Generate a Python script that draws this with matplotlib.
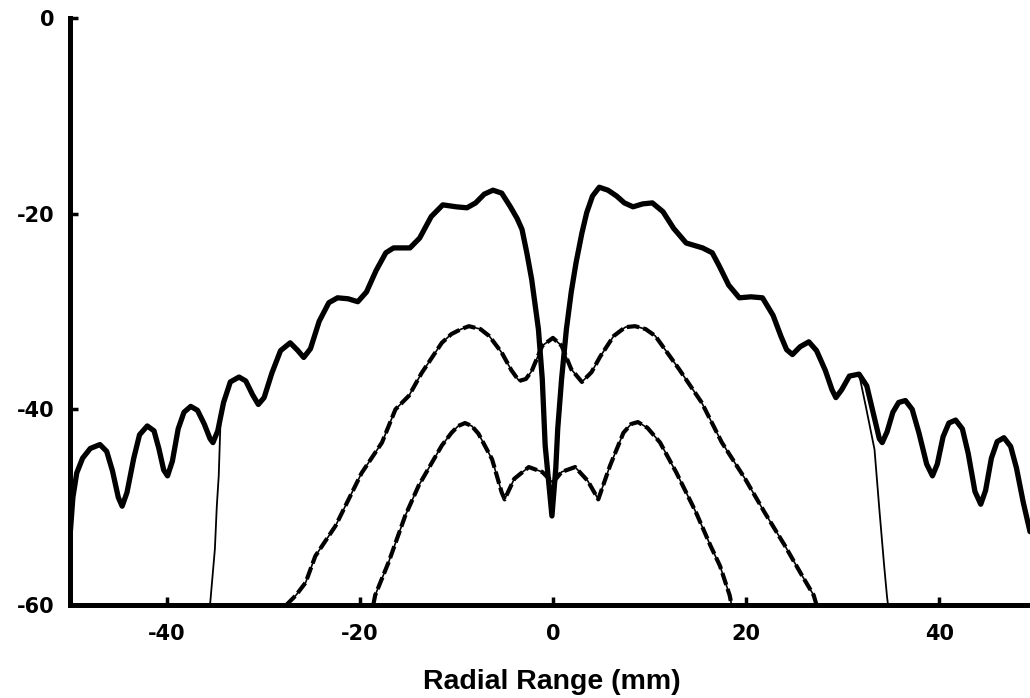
import numpy as np
import matplotlib
matplotlib.use("Agg")
import matplotlib.pyplot as plt

# Outer lobe structure, measured (thick trace)
outer_x = [-50.0, -49.7, -49.3, -48.7, -47.9, -46.9, -46.2, -45.6, -45.0, -44.6,
           -44.1, -43.4, -42.8, -42.0, -41.3, -40.8, -40.3, -39.9, -39.4, -38.8,
           -38.2, -37.5, -36.8, -36.1, -35.5, -35.2, -34.7, -34.1, -33.4, -32.5,
           -31.8, -31.1, -30.5, -29.9, -29.1, -28.2, -27.2, -26.4, -25.8, -25.1,
           -24.2, -23.2, -22.3, -21.2, -20.2, -19.3, -18.3, -17.3, -16.5, -14.8,
           -13.8, -12.6, -11.4, -10.0, -8.9, -8.0, -7.1, -6.2, -5.3, -4.4,
           -3.7, -3.2, -2.7, -2.2, -1.5, -1.1, -0.8, -0.3, -0.1, 0.3,
           0.5, 0.9, 1.4, 1.9, 2.4, 3.0, 3.5, 4.1, 4.8, 5.7,
           6.6, 7.4, 8.3, 9.3, 10.3, 11.4, 12.5, 13.8, 15.5, 16.5,
           17.2, 18.2, 19.3, 20.5, 21.7, 22.8, 23.6, 24.2, 24.8, 25.6,
           26.5, 27.3, 28.2, 28.9, 29.3, 29.9, 30.7, 31.7, 32.5, 33.2,
           33.8, 34.1, 34.6, 35.2, 35.8, 36.5, 37.2, 37.9, 38.7, 39.3,
           39.8, 40.4, 41.0, 41.7, 42.4, 43.0, 43.7, 44.3, 44.8, 45.4,
           46.0, 46.7, 47.4, 48.0, 48.7, 49.4]
outer_y = [-53.0, -49.0, -46.5, -45.0, -44.0, -43.6, -44.3, -46.3, -49.0, -49.9,
           -48.5, -45.0, -42.6, -41.7, -42.2, -44.0, -46.2, -46.8, -45.3, -42.0,
           -40.3, -39.7, -40.1, -41.5, -43.0, -43.4, -42.2, -39.3, -37.2, -36.7,
           -37.1, -38.5, -39.5, -38.8, -36.3, -34.0, -33.2, -34.0, -34.7, -33.8,
           -31.0, -29.1, -28.6, -28.7, -29.0, -28.0, -25.8, -24.0, -23.5, -23.5,
           -22.5, -20.3, -19.1, -19.3, -19.4, -18.9, -18.0, -17.6, -17.9, -19.3,
           -20.5, -21.6, -24.0, -26.7, -31.8, -36.9, -43.7, -48.8, -50.9, -46.0,
           -42.0, -36.9, -31.8, -28.0, -25.0, -22.0, -19.9, -18.2, -17.3, -17.6,
           -18.2, -18.9, -19.3, -19.0, -18.9, -19.8, -21.5, -23.0, -23.5, -24.0,
           -25.3, -27.3, -28.6, -28.5, -28.6, -30.4, -32.5, -33.9, -34.4, -33.6,
           -33.1, -34.0, -36.0, -38.0, -38.8, -38.0, -36.6, -36.4, -37.6, -40.5,
           -43.0, -43.4, -42.3, -40.3, -39.3, -39.1, -40.0, -42.4, -45.6, -46.8,
           -45.6, -42.8, -41.4, -41.1, -42.0, -44.5, -48.4, -49.7, -48.3, -45.0,
           -43.3, -42.9, -43.8, -46.0, -49.5, -52.5]

# Simulated outer trace: tails where it falls away from the measurement
sim_left_x = [-35.5, -35.0, -34.8, -34.6, -34.4]
sim_left_y = [-60.0, -54.3, -49.9, -46.8, -40.7]
sim_right_x = [32.4, 33.3, 33.8, 34.3, 34.6, 34.7]
sim_right_y = [-39.7, -44.1, -50.2, -56.0, -59.2, -60.0]

# Middle lobe
mid_x = [-27.6, -26.6, -25.6, -24.6, -22.5, -19.8, -17.7, -16.3, -14.9, -13.6,
         -11.5, -10.5, -9.5, -8.7, -7.5, -6.6, -5.3, -4.3, -3.5, -2.8,
         -2.2, -1.1, 0.0, 0.9, 1.9, 3.0, 4.0, 4.9, 6.3, 7.5,
         8.5, 9.6, 10.6, 13.0, 15.4, 17.5, 19.9, 21.9, 24.0, 25.8,
         27.0, 27.3]
mid_y = [-60.0, -59.0, -57.7, -55.0, -51.9, -46.5, -43.4, -40.0, -38.6, -36.3,
         -33.2, -32.3, -31.8, -31.5, -31.8, -32.5, -34.2, -36.0, -37.1, -36.9,
         -36.1, -33.5, -32.7, -33.5, -35.9, -37.2, -36.2, -34.6, -32.5, -31.6,
         -31.5, -31.8, -32.5, -35.8, -39.3, -43.4, -47.1, -50.5, -53.9, -57.0,
         -59.0, -60.0]

# Inner lobe
inner_x = [-18.6, -18.4, -17.0, -15.3, -13.9, -12.5, -11.5, -10.5, -9.8, -9.1,
           -8.4, -7.7, -6.3, -5.3, -5.0, -4.0, -2.5, -1.1, 0.0, 0.9,
           2.3, 3.6, 4.7, 5.9, 7.3, 8.1, 8.8, 9.8, 11.1, 12.8,
           14.8, 16.3, 17.3, 18.3, 18.5]
inner_y = [-60.0, -59.0, -55.6, -50.9, -47.8, -45.4, -43.7, -42.4, -41.7, -41.4,
           -41.7, -42.5, -45.1, -48.5, -49.2, -47.1, -45.9, -46.4, -47.5, -46.4,
           -45.9, -47.3, -49.2, -45.8, -42.4, -41.5, -41.3, -41.9, -43.4, -46.5,
           -50.5, -53.9, -56.0, -59.0, -60.0]

x_ticks = [-40, -20, 0, 20, 40]
y_ticks = [0, -20, -40, -60]


def main():
    fig = plt.figure(figsize=(10.30, 6.98), dpi=100)
    ax = fig.add_axes([70 / 1030, 93 / 698, 1 - 70 / 1030, 587 / 698])

    ox = np.array(outer_x)
    oy = np.array(outer_y)
    core = (ox > -34.0) & (ox < 31.8)
    sim_x = np.concatenate([sim_left_x, ox[core], sim_right_x])
    sim_y = np.concatenate([sim_left_y, oy[core], sim_right_y])

    ax.plot(sim_x, sim_y, color="black", lw=1.3, solid_joinstyle="round")
    ax.plot(ox, oy, color="black", lw=3.8, solid_joinstyle="round",
            solid_capstyle="round")

    for xs, ys in [(mid_x, mid_y), (inner_x, inner_y)]:
        ax.plot(xs, ys, color="black", lw=1.2, solid_joinstyle="round")
        ax.plot(xs, ys, color="black", lw=3.0, linestyle=(0, (3, 1)))

    ax.set_xlim(-50, 49.4)
    ax.set_ylim(-60, 0)
    for side in ["top", "right"]:
        ax.spines[side].set_visible(False)
    for side in ["left", "bottom"]:
        ax.spines[side].set_linewidth(3.6)
    ax.spines["left"].set_capstyle("projecting")

    ax.set_xticks(x_ticks)
    ax.set_yticks(y_ticks)
    ax.set_xticklabels([str(t) for t in x_ticks])
    ax.set_yticklabels([str(t) for t in y_ticks])
    ax.tick_params(axis="both", direction="in", length=6, width=2.5,
                   labelsize=15)
    ax.tick_params(axis="x", pad=14)
    ax.tick_params(axis="y", pad=11)
    for lab in ax.get_xticklabels() + ax.get_yticklabels():
        lab.set_fontweight("heavy")

    fig.text(552 / 1030, 16 / 698, "Radial Range (mm)", ha="center",
             va="center", fontsize=20.5, fontweight="bold",
             family="Liberation Sans")

    fig.savefig("out.png", dpi=100)
    plt.close(fig)


if __name__ == "__main__":
    main()
